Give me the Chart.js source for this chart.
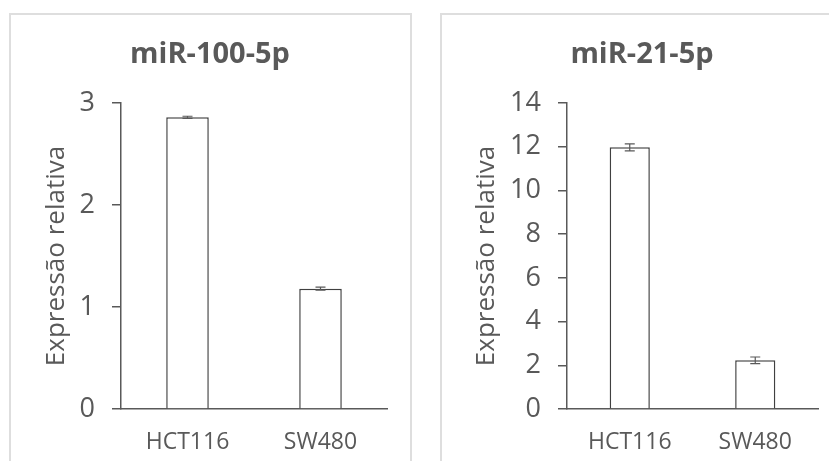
<!DOCTYPE html>
<html>
<head>
<meta charset="utf-8">
<script src="https://cdn.jsdelivr.net/npm/chart.js@4"></script>
<style>
  html, body { margin: 0; padding: 0; background: #ffffff; width: 829px; height: 461px; overflow: hidden; }
  .panel { position: absolute; border: 2px solid #dedede; box-sizing: border-box; }
  .wrap { position: absolute; }
</style>
</head>
<body>
<div class="panel" style="left:9px; top:13px; width:403px; height:470px;"></div>
<div class="panel" style="left:440px; top:13px; width:420px; height:470px;"></div>
<div class="wrap" style="left:0px; top:0px; width:415px; height:461px;"><canvas id="c1" width="415" height="461"></canvas></div>
<div class="wrap" style="left:415px; top:0px; width:414px; height:461px;"><canvas id="c2" width="414" height="461"></canvas></div>
<script>
// ---- data ----
const categories = ['HCT116', 'SW480'];
const mir100Values = [2.86, 1.18];
const mir100Errors = [0.01, 0.015];
const mir21Values = [11.97, 2.23];
const mir21Errors = [0.16, 0.15];
const titles = ['miR-100-5p', 'miR-21-5p'];
const yAxisTitle = 'Expressão relativa';

const GRAY = '#595959';
const FONT = "'Open Sans', 'Liberation Sans', sans-serif";

const errorBarPlugin = {
  id: 'errorBars',
  afterDatasetsDraw(chart, args, opts) {
    const ctx = chart.ctx;
    const meta = chart.getDatasetMeta(0);
    const ys = chart.scales.y;
    const vals = chart.data.datasets[0].data;
    const errs = opts.errors || [];
    ctx.save();
    ctx.strokeStyle = opts.color || GRAY;
    ctx.lineWidth = 1.2;
    meta.data.forEach((bar, i) => {
      const e = errs[i] || 0;
      const x = bar.x;
      const yt = ys.getPixelForValue(vals[i] + e);
      const yb = ys.getPixelForValue(vals[i] - e);
      const cw = 5;
      ctx.beginPath();
      ctx.moveTo(x, yt); ctx.lineTo(x, yb);
      ctx.moveTo(x - cw, yt); ctx.lineTo(x + cw, yt);
      ctx.moveTo(x - cw, yb); ctx.lineTo(x + cw, yb);
      ctx.stroke();
    });
    ctx.restore();
  }
};

function makeChart(id, title, values, errors, yMax, yStep, cfg) {
  return new Chart(document.getElementById(id), {
    type: 'bar',
    data: {
      labels: categories,
      datasets: [{
        data: values,
        backgroundColor: '#ffffff',
        borderColor: '#404040',
        borderWidth: 1.5,
        barPercentage: 0.32,
        categoryPercentage: 1.0
      }]
    },
    plugins: [errorBarPlugin],
    options: {
      responsive: false,
      animation: false,
      devicePixelRatio: 1,
      layout: { padding: { left: cfg.padL, right: cfg.padR, top: 0, bottom: 0 } },
      plugins: {
        legend: { display: false },
        tooltip: { enabled: false },
        title: {
          display: true,
          text: title,
          color: GRAY,
          font: { family: FONT, size: 29, weight: 'bold', lineHeight: 1.2 },
          padding: { top: 37.6, bottom: 30.6 }
        },
        errorBars: { errors: errors, color: GRAY }
      },
      scales: {
        x: {
          grid: { display: false, drawTicks: false },
          border: { display: true, color: GRAY, width: 1.5 },
          ticks: {
            color: GRAY,
            padding: 20,
            font: { family: FONT, size: 23 }
          },
          afterFit(scale) { scale.height = 52; }
        },
        y: {
          min: 0,
          max: yMax,
          ticks: {
            stepSize: yStep,
            color: GRAY,
            padding: cfg.tickPad,
            font: { family: FONT, size: 27 }
          },
          grid: {
            display: true,
            drawOnChartArea: false,
            drawTicks: true,
            tickLength: 9,
            color: GRAY,
            lineWidth: 1.5
          },
          border: { display: true, color: GRAY, width: 1.5 },
          title: {
            display: true,
            text: yAxisTitle,
            color: GRAY,
            font: { family: FONT, size: 26, lineHeight: 1.2 },
            padding: { top: cfg.titlePad, bottom: 0 }
          },
          afterFit(scale) { scale.width = cfg.yWidth; }
        }
      }
    }
  });
}

makeChart('c1', titles[0], mir100Values, mir100Errors, 3, 1,
  { padL: 33, padR: 28, yWidth: 88, titlePad: 8.4, tickPad: 17 });
makeChart('c2', titles[1], mir21Values, mir21Errors, 14, 2,
  { padL: 51, padR: 11, yWidth: 101, titlePad: 5.4, tickPad: 17 });
</script>
</body>
</html>
